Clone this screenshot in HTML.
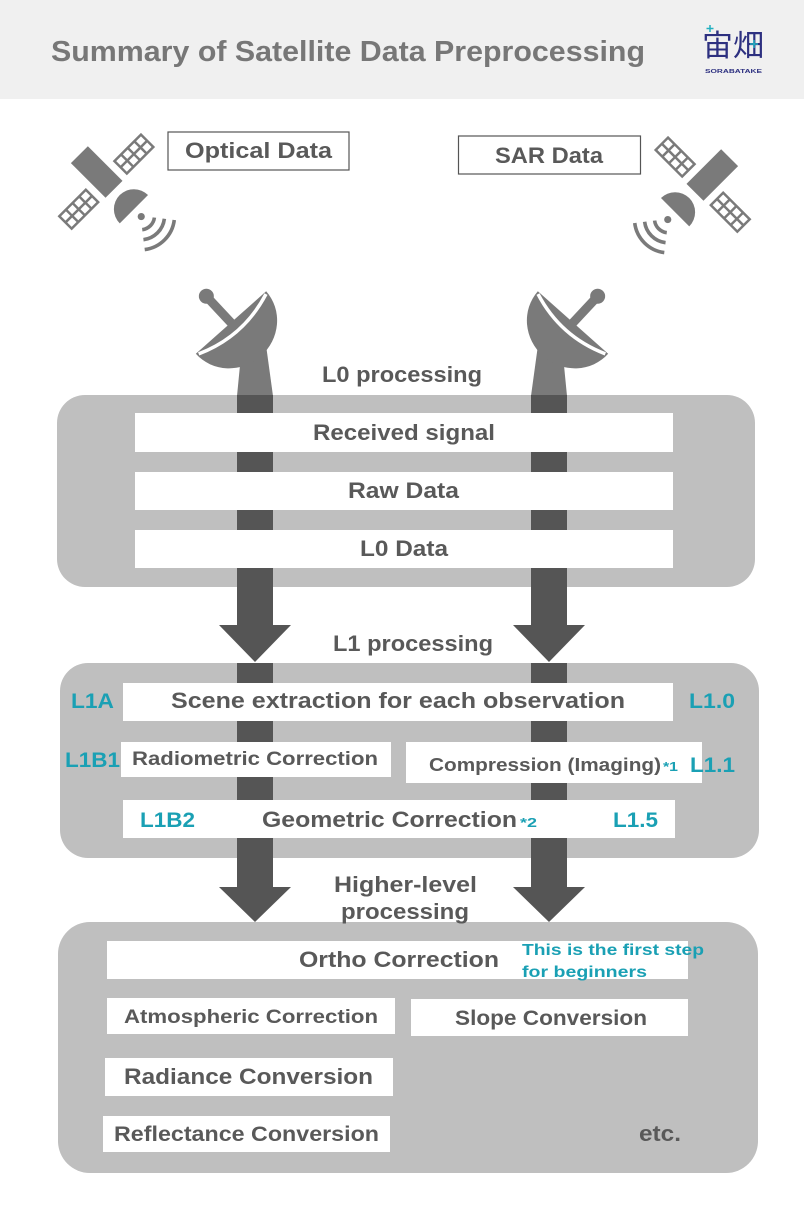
<!DOCTYPE html>
<html><head><meta charset="utf-8"><style>
html,body{margin:0;padding:0;background:#fff;}
svg{display:block;}
text{font-family:"Liberation Sans","Noto Sans CJK JP",sans-serif;font-weight:bold;}
</style></head><body>
<svg width="804" height="1209" viewBox="0 0 804 1209" xmlns="http://www.w3.org/2000/svg">
<defs>
<g id="sat">
  <g transform="translate(96.7,172) rotate(45)" fill="#7a7a7a">
    <rect x="-24.5" y="-12" width="49" height="24"/>
    <rect x="3.6" y="-59" width="20" height="40"/>
    <rect x="3.6" y="19" width="20" height="40"/>
    <g fill="#fff">
      <rect x="6.1" y="-56.5" width="6.25" height="6.9"/><rect x="14.85" y="-56.5" width="6.25" height="6.9"/>
      <rect x="6.1" y="-47.1" width="6.25" height="6.9"/><rect x="14.85" y="-47.1" width="6.25" height="6.9"/>
      <rect x="6.1" y="-37.75" width="6.25" height="6.9"/><rect x="14.85" y="-37.75" width="6.25" height="6.9"/>
      <rect x="6.1" y="-28.4" width="6.25" height="6.9"/><rect x="14.85" y="-28.4" width="6.25" height="6.9"/>
      <rect x="6.1" y="21.5" width="6.25" height="6.9"/><rect x="14.85" y="21.5" width="6.25" height="6.9"/>
      <rect x="6.1" y="30.9" width="6.25" height="6.9"/><rect x="14.85" y="30.9" width="6.25" height="6.9"/>
      <rect x="6.1" y="40.25" width="6.25" height="6.9"/><rect x="14.85" y="40.25" width="6.25" height="6.9"/>
      <rect x="6.1" y="49.6" width="6.25" height="6.9"/><rect x="14.85" y="49.6" width="6.25" height="6.9"/>
    </g>
    <path d="M52.6,-20 A20,20 0 0 0 52.6,20 Z"/>
    <circle cx="63" cy="0" r="3.6"/>
    <g fill="none" stroke="#7a7a7a" stroke-width="3.6">
      <path d="M73,-8.6 A14,14 0 0 1 73,8.6"/>
      <path d="M80.9,-14.8 A24,24 0 0 1 80.9,14.8"/>
      <path d="M88.8,-20.9 A34,34 0 0 1 88.8,20.9"/>
    </g>
  </g>
</g>
<g id="dish">
  <polygon points="538,345 562,345 567,396 531,396" fill="#7a7a7a"/>
  <g transform="translate(573,322.5) rotate(41.6)">
    <path d="M-47,0 A47,45 0 0 0 47,0 Z" fill="#7a7a7a"/>
    <path d="M-45,2 Q0,19 45,2" fill="none" stroke="#fff" stroke-width="3.5"/>
    <line x1="0" y1="7" x2="1" y2="-33" stroke="#7a7a7a" stroke-width="9"/>
    <circle cx="1" cy="-36" r="7.5" fill="#7a7a7a"/>
  </g>
</g>
</defs>

<!-- header -->
<rect x="0" y="0" width="804" height="99" fill="#f0f0f0"/>
<text x="51" y="61" font-size="29" fill="#777" textLength="594" lengthAdjust="spacingAndGlyphs">Summary of Satellite Data Preprocessing</text>
<text x="702" y="56" font-size="30" fill="#2d3080" textLength="62" lengthAdjust="spacingAndGlyphs" style="font-family:'Noto Sans CJK JP',sans-serif;font-weight:normal">宙畑</text>
<g stroke="#22b0c0" stroke-width="1.5"><line x1="710" y1="25" x2="710" y2="32"/><line x1="706.5" y1="28.5" x2="713.5" y2="28.5"/><line x1="754" y1="40" x2="754" y2="48"/><line x1="750" y1="44" x2="758" y2="44"/></g>
<text x="705" y="73" font-size="5" fill="#2d3080" textLength="57" lengthAdjust="spacingAndGlyphs">SORABATAKE</text>

<!-- satellites -->
<use href="#sat"/>
<g transform="translate(809,3) scale(-1,1)"><use href="#sat"/></g>

<!-- data labels -->
<rect x="168" y="132" width="181" height="38" fill="#fff" stroke="#555" stroke-width="1.2"/>
<text x="185" y="158" font-size="22" fill="#595959" textLength="147" lengthAdjust="spacingAndGlyphs">Optical Data</text>
<rect x="458.5" y="136" width="182" height="38" fill="#fff" stroke="#555" stroke-width="1.2"/>
<text x="495" y="163" font-size="22" fill="#595959" textLength="108" lengthAdjust="spacingAndGlyphs">SAR Data</text>

<!-- ground dishes -->
<use href="#dish"/>
<g transform="translate(804,0) scale(-1,1)"><use href="#dish"/></g>

<!-- boxes -->
<rect x="57" y="395" width="698" height="192" rx="28" fill="#bfbfbf"/>
<rect x="60" y="663" width="699" height="195" rx="28" fill="#bfbfbf"/>
<rect x="58" y="922" width="700" height="251" rx="32" fill="#bfbfbf"/>

<!-- stripes and arrows -->
<g fill="#555">
  <rect x="237" y="395" width="36" height="231"/>
  <rect x="531" y="395" width="36" height="231"/>
  <polygon points="219,625 291,625 255,662"/>
  <polygon points="513,625 585,625 549,662"/>
  <rect x="237" y="663" width="36" height="225"/>
  <rect x="531" y="663" width="36" height="225"/>
  <polygon points="219,887 291,887 255,922"/>
  <polygon points="513,887 585,887 549,922"/>
</g>

<!-- white bars -->
<g fill="#fff">
  <rect x="135" y="413" width="538" height="39"/>
  <rect x="135" y="472" width="538" height="38"/>
  <rect x="135" y="530" width="538" height="38"/>
  <rect x="123" y="683" width="550" height="38"/>
  <rect x="121" y="742" width="270" height="35"/>
  <rect x="406" y="742" width="296" height="41"/>
  <rect x="123" y="800" width="552" height="38"/>
  <rect x="107" y="941" width="581" height="38"/>
  <rect x="107" y="998" width="288" height="36"/>
  <rect x="411" y="999" width="277" height="37"/>
  <rect x="105" y="1058" width="288" height="38"/>
  <rect x="103" y="1116" width="287" height="36"/>
</g>

<!-- texts -->
<g fill="#595959">
  <text x="322" y="382" font-size="22" textLength="160" lengthAdjust="spacingAndGlyphs">L0 processing</text>
  <text x="313" y="440" font-size="22" textLength="182" lengthAdjust="spacingAndGlyphs">Received signal</text>
  <text x="348" y="498" font-size="22" textLength="111" lengthAdjust="spacingAndGlyphs">Raw Data</text>
  <text x="360" y="556" font-size="22" textLength="88" lengthAdjust="spacingAndGlyphs">L0 Data</text>
  <text x="333" y="651" font-size="22" textLength="160" lengthAdjust="spacingAndGlyphs">L1 processing</text>
  <text x="171" y="708" font-size="22" textLength="454" lengthAdjust="spacingAndGlyphs">Scene extraction for each observation</text>
  <text x="132" y="765" font-size="19" textLength="246" lengthAdjust="spacingAndGlyphs">Radiometric Correction</text>
  <text x="429" y="771" font-size="18" textLength="232" lengthAdjust="spacingAndGlyphs">Compression (Imaging)</text>
  <text x="262" y="827" font-size="22" textLength="255" lengthAdjust="spacingAndGlyphs">Geometric Correction</text>
  <text x="334" y="892" font-size="22" textLength="143" lengthAdjust="spacingAndGlyphs">Higher-level</text>
  <text x="341" y="919" font-size="22" textLength="128" lengthAdjust="spacingAndGlyphs">processing</text>
  <text x="299" y="967" font-size="22" textLength="200" lengthAdjust="spacingAndGlyphs">Ortho Correction</text>
  <text x="124" y="1023" font-size="19" textLength="254" lengthAdjust="spacingAndGlyphs">Atmospheric Correction</text>
  <text x="455" y="1025" font-size="21" textLength="192" lengthAdjust="spacingAndGlyphs">Slope Conversion</text>
  <text x="124" y="1084" font-size="22" textLength="249" lengthAdjust="spacingAndGlyphs">Radiance Conversion</text>
  <text x="114" y="1141" font-size="21" textLength="265" lengthAdjust="spacingAndGlyphs">Reflectance Conversion</text>
  <text x="639" y="1141" font-size="22" textLength="42" lengthAdjust="spacingAndGlyphs">etc.</text>
</g>
<g fill="#1aa0b4">
  <text x="71" y="708" font-size="21" textLength="43" lengthAdjust="spacingAndGlyphs">L1A</text>
  <text x="689" y="708" font-size="21" textLength="46" lengthAdjust="spacingAndGlyphs">L1.0</text>
  <text x="65" y="767" font-size="21" textLength="55" lengthAdjust="spacingAndGlyphs">L1B1</text>
  <text x="663" y="771" font-size="13" textLength="15" lengthAdjust="spacingAndGlyphs">*1</text>
  <text x="690" y="772" font-size="21" textLength="45" lengthAdjust="spacingAndGlyphs">L1.1</text>
  <text x="140" y="827" font-size="21" textLength="55" lengthAdjust="spacingAndGlyphs">L1B2</text>
  <text x="520" y="827" font-size="13" textLength="17" lengthAdjust="spacingAndGlyphs">*2</text>
  <text x="613" y="827" font-size="21" textLength="45" lengthAdjust="spacingAndGlyphs">L1.5</text>
  <text x="522" y="955" font-size="16" textLength="182" lengthAdjust="spacingAndGlyphs">This is the first step</text>
  <text x="522" y="977" font-size="16" textLength="125" lengthAdjust="spacingAndGlyphs">for beginners</text>
</g>
</svg>
</body></html>
